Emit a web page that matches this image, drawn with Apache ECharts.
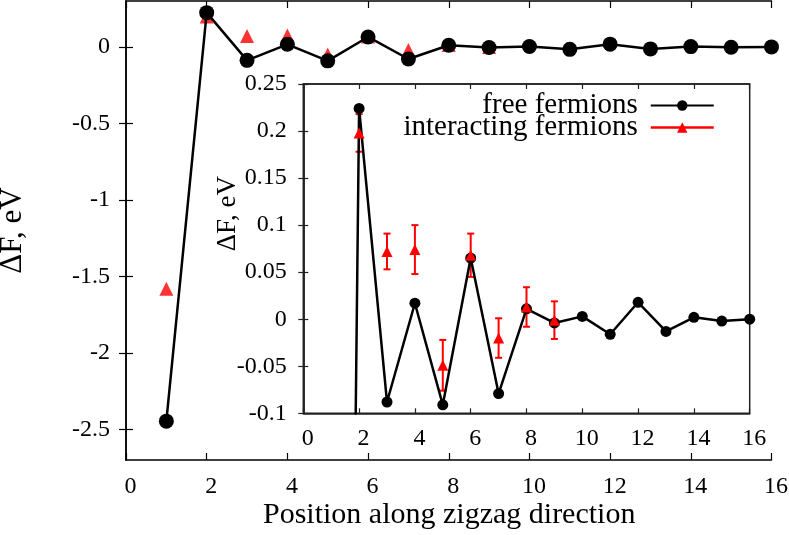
<!DOCTYPE html>
<html>
<head>
<meta charset="UTF-8">
<title>Delta F along zigzag</title>
<script src="https://cdn.jsdelivr.net/npm/echarts@6/dist/echarts.min.js"></script>
<style>
	html, body { margin: 0; padding: 0; background: #fff; }
	#chart { width: 789px; height: 535px; }
</style>
</head>
<body>
<div id="chart"></div>
<script>
// positions along the zigzag direction
var freeX = [1, 2, 3, 4, 5, 6, 7, 8, 9, 10, 11, 12, 13, 14, 15, 16];
var freeY = [-2.446, 0.224, -0.088, 0.017, -0.091, 0.065, -0.079, 0.011, -0.004, 0.003, -0.016, 0.018, -0.013, 0.002, -0.002, 0.0];

var interX = [1, 2, 3, 4, 5, 6, 7, 8, 9];
var interY = [-1.58, 0.198, 0.072, 0.074, -0.049, 0.068, -0.020, 0.013, -0.001];
var interErr = [0.02, 0.02, 0.019, 0.026, 0.027, 0.023, 0.021, 0.021, 0.02];

var mainYTicks = [-2.5, -2, -1.5, -1, -0.5, 0];

var FONT = 'Liberation Serif';

function pairs(xs, ys) {
	var out = [];
	for (var i = 0; i < xs.length; i++) out.push([xs[i], ys[i]]);
	return out;
}
function errData() {
	var out = [];
	for (var i = 0; i < interX.length; i++) {
		out.push([interX[i], interY[i] - interErr[i], interY[i] + interErr[i]]);
	}
	return out;
}

var chart = echarts.init(document.getElementById('chart'));

var lab = { fontFamily: FONT, fontSize: 24, color: '#000' };

function xAxisCfg(grid, pos, showLabel, tickLen, lineColor, margin) {
	return {
		type: 'value', gridIndex: grid, position: pos,
		min: 0, max: 16, interval: 2,
		axisLine: { show: true, onZero: false, lineStyle: { color: lineColor, width: 1.5 } },
		axisTick: { show: true, inside: true, length: tickLen, lineStyle: { color: lineColor, width: 1.2 } },
		axisLabel: showLabel ? Object.assign({ margin: margin, padding: [0, 0, 0, 9] }, lab) : { show: false },
		splitLine: { show: false }
	};
}

var option = {
	animation: false,
	backgroundColor: '#fff',
	grid: [
		{ left: 126, top: 1, width: 645.5, height: 459, outerBoundsMode: 'none', containLabel: false },
		{ left: 303.3, top: 84, width: 446.4, height: 329.3, show: true, outerBoundsMode: 'none', containLabel: false,
		  backgroundColor: '#fff', borderColor: '#222', borderWidth: 1.5 }
	],
	legend: {
		orient: 'vertical',
		right: 69,
		top: 86,
		align: 'right',
		itemGap: -7,
		itemWidth: 63,
		itemHeight: 13,
		textStyle: { fontFamily: FONT, fontSize: 29, color: '#000', lineHeight: 23, padding: [0, 8, 0, 0] },
		data: [
			{ name: 'free fermions' },
			{ name: 'interacting fermions', lineStyle: { color: '#ff0000', width: 2.5, opacity: 1 } }
		]
	},
	xAxis: [
		xAxisCfg(0, 'bottom', true, 7, '#000', 15),
		xAxisCfg(0, 'top', false, 7, '#000', 0),
		xAxisCfg(1, 'bottom', true, 5, '#222', 13),
		xAxisCfg(1, 'top', false, 5, '#222', 0)
	],
	yAxis: [
		{
			type: 'value', gridIndex: 0, position: 'left',
			min: -2.7, max: 0.3,
			name: 'ΔF, eV', nameLocation: 'middle', nameGap: 98, nameRotate: 90, nameMoveOverlap: false,
			nameTextStyle: { fontFamily: FONT, fontSize: 31, color: '#000' },
			axisLine: { show: true, lineStyle: { color: '#000', width: 1.5 } },
			axisTick: { show: true, inside: true, length: 7, customValues: mainYTicks, lineStyle: { color: '#000', width: 1.2 } },
			axisLabel: Object.assign({ margin: 16, customValues: mainYTicks }, lab),
			splitLine: { show: false }
		},
		{
			type: 'value', gridIndex: 0, position: 'right',
			min: -2.7, max: 0.3,
			axisLine: { show: true, lineStyle: { color: '#000', width: 1.5 } },
			axisTick: { show: true, inside: true, length: 7, customValues: mainYTicks, lineStyle: { color: '#000', width: 1.2 } },
			axisLabel: { show: false },
			splitLine: { show: false }
		},
		{
			type: 'value', gridIndex: 1, position: 'left',
			min: -0.1, max: 0.25, interval: 0.05,
			name: 'ΔF, eV', nameLocation: 'middle', nameGap: 62, nameRotate: 90, nameMoveOverlap: false,
			nameTextStyle: { fontFamily: FONT, fontSize: 27, color: '#000', padding: [0, 0, 0, 70] },
			axisLine: { show: true, lineStyle: { color: '#222', width: 1.5 } },
			axisTick: { show: true, inside: true, length: 5, lineStyle: { color: '#222', width: 1.2 } },
			axisLabel: Object.assign({ margin: 16.5 }, lab),
			splitLine: { show: false }
		},
		{
			type: 'value', gridIndex: 1, position: 'right',
			min: -0.1, max: 0.25, interval: 0.05,
			axisLine: { show: true, lineStyle: { color: '#222', width: 1.5 } },
			axisTick: { show: true, inside: true, length: 5, lineStyle: { color: '#222', width: 1.2 } },
			axisLabel: { show: false },
			splitLine: { show: false }
		}
	],
	graphic: [
		{
			type: 'text', left: 263, top: 500,
			style: { text: 'Position along zigzag direction', fontFamily: FONT, fontSize: 30, fill: '#000' }
		}
	],
	series: [
		{
			name: 'free main', type: 'line', xAxisIndex: 0, yAxisIndex: 0,
			data: pairs(freeX, freeY),
			symbol: 'circle', symbolSize: 15,
			lineStyle: { color: '#000', width: 2.5 },
			itemStyle: { color: '#000' }
		},
		{
			name: 'interacting main', type: 'scatter', xAxisIndex: 0, yAxisIndex: 0,
			data: pairs(interX, interY),
			symbol: 'triangle', symbolSize: 14,
			itemStyle: { color: '#ff0000' }
		},
		{
			name: 'free fermions', type: 'line', xAxisIndex: 2, yAxisIndex: 2,
			data: pairs(freeX, freeY),
			symbol: 'circle', symbolSize: 11,
			clip: true,
			lineStyle: { color: '#000', width: 2.5 },
			itemStyle: { color: '#000' }
		},
		{
			name: 'interacting errors', type: 'custom', xAxisIndex: 2, yAxisIndex: 2,
			data: errData(),
			renderItem: function (params, api) {
				var x = api.value(0);
				var lo = api.coord([x, api.value(1)]);
				var hi = api.coord([x, api.value(2)]);
				var cap = 3.5;
				var st = { stroke: '#ff0000', lineWidth: 2 };
				return {
					type: 'group',
					children: [
						{ type: 'line', shape: { x1: lo[0], y1: lo[1], x2: hi[0], y2: hi[1] }, style: st },
						{ type: 'line', shape: { x1: lo[0] - cap, y1: lo[1], x2: lo[0] + cap, y2: lo[1] }, style: st },
						{ type: 'line', shape: { x1: hi[0] - cap, y1: hi[1], x2: hi[0] + cap, y2: hi[1] }, style: st }
					]
				};
			},
			z: 3
		},
		{
			name: 'interacting fermions', type: 'line', xAxisIndex: 2, yAxisIndex: 2,
			data: pairs(interX, interY),
			symbol: 'triangle', symbolSize: 11,
			clip: true,
			lineStyle: { color: '#ff0000', width: 2.5, opacity: 0 },
			itemStyle: { color: '#ff0000' },
			z: 4
		}
	]
};
chart.setOption(option);
</script>
</body>
</html>
